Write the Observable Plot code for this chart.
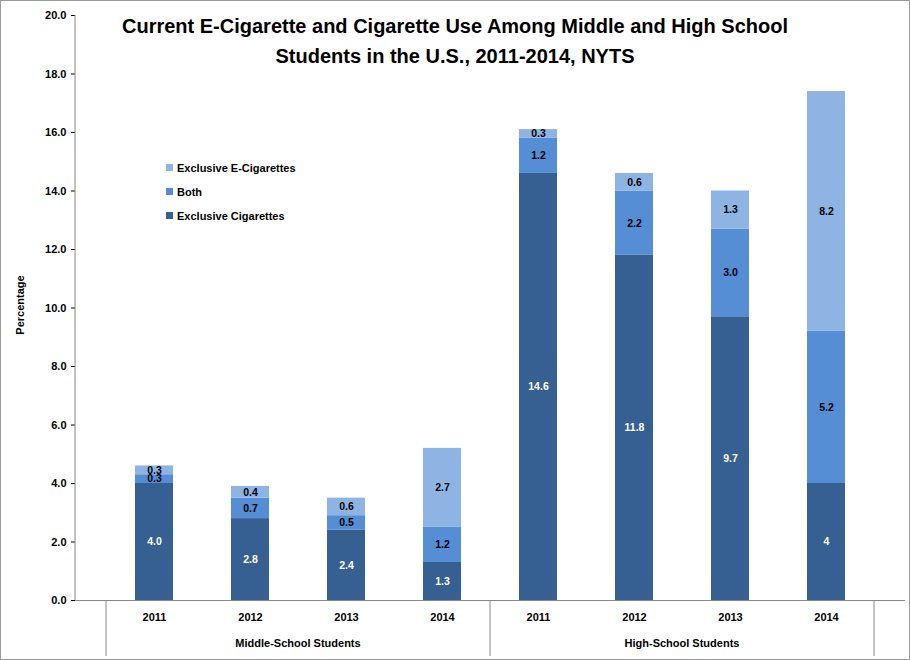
<!DOCTYPE html>
<html><head><meta charset="utf-8">
<script src="https://cdn.jsdelivr.net/npm/d3@7"></script>
<script src="https://cdn.jsdelivr.net/npm/@observablehq/plot@0.6"></script>
<style>body{margin:0;background:#fff}svg{display:block}</style>
</head><body><div id="c"></div>
<script>
const keys = ["M2011","M2012","M2013","M2014","H2011","H2012","H2013","H2014"];
const years = ["2011","2012","2013","2014","2011","2012","2013","2014"];
const groups = ["Middle-School Students","High-School Students"];
const series = ["Exclusive Cigarettes","Both","Exclusive E-Cigarettes"];
const cig   = [4.0, 2.8, 2.4, 1.3, 14.6, 11.8, 9.7, 4.0];
const both  = [0.3, 0.7, 0.5, 1.2, 1.2, 2.2, 3.0, 5.2];
const ecig  = [0.3, 0.4, 0.6, 2.7, 0.3, 0.6, 1.3, 8.2];
const cigLabels = ["4.0","2.8","2.4","1.3","14.6","11.8","9.7","4"];
const colors = ["#376092","#558ED5","#8EB4E3"];
const yTicks = [0,2,4,6,8,10,12,14,16,18,20];

const data = [];
keys.forEach((k,i)=>{
  data.push({k, s:series[0], v:cig[i], label:cigLabels[i], si:0});
  data.push({k, s:series[1], v:both[i], label:both[i].toFixed(1), si:1});
  data.push({k, s:series[2], v:ecig[i], label:ecig[i].toFixed(1), si:2});
});
const font = "Liberation Sans, Arial, sans-serif";
const chart = Plot.plot({
  width:910, height:660, marginLeft:75, marginRight:5, marginTop:15, marginBottom:60,
  style:{fontFamily:font, fontSize:"11px", fontWeight:"bold", color:"#000", background:"#fff"},
  x:{domain:keys, padding:0.6, tickFormat:(d)=>years[keys.indexOf(d)], tickSize:0, tickPadding:13, label:null},
  y:{domain:[0,20], ticks:yTicks, tickFormat:d=>d.toFixed(1), tickSize:4, label:null},
  color:{domain:series, range:colors},
  marks:[
    Plot.barY(data, {x:"k", y:"v", fill:"s", order:series}),
    Plot.text(data, Plot.stackY({x:"k", y:"v", order:series, text:"label",
      fill:d=>d.si===0?"white":"black", fontSize:10.5, fontWeight:"bold"})),
    Plot.ruleY([0], {stroke:"#888"})
  ]
});
const svg = d3.select(chart);
const xs = chart.scale("x");
const bw = xs.bandwidth, step = xs.step;
const left = xs.apply("M2011") - (step-bw)/2;
const mid = xs.apply("H2011") - (step-bw)/2;
const right = xs.apply("H2014") + bw + (step-bw)/2;
svg.append("rect").attr("x",0.5).attr("y",0.5).attr("width",909).attr("height",659).attr("fill","none").attr("stroke","#999");
svg.append("line").attr("x1",75).attr("x2",75).attr("y1",15).attr("y2",600).attr("stroke","#888");
[left,mid,right].forEach(x=>svg.append("line").attr("x1",x).attr("x2",x).attr("y1",600).attr("y2",656).attr("stroke","#888"));
[[left,mid],[mid,right]].forEach(([a,b],i)=>svg.append("text").attr("x",(a+b)/2).attr("y",647).attr("text-anchor","middle")
  .attr("font-family",font).attr("font-size",11).attr("font-weight","bold").text(groups[i]));
svg.append("text").attr("transform","translate(24,305) rotate(-90)").attr("text-anchor","middle")
  .attr("font-family",font).attr("font-size",11).attr("font-weight","bold").text("Percentage");
["Current E-Cigarette and Cigarette Use Among Middle and High School","Students in the U.S., 2011-2014, NYTS"].forEach((t,i)=>
  svg.append("text").attr("x",455).attr("y",33+i*30).attr("text-anchor","middle").attr("font-family",font)
  .attr("font-size",20).attr("font-weight","bold").text(t));
series.slice().reverse().forEach((s,i)=>{
  const y = 169+i*24;
  svg.append("rect").attr("x",166).attr("y",y-5).attr("width",7).attr("height",7).attr("fill",colors[2-i]);
  svg.append("text").attr("x",177).attr("y",y+3).attr("text-anchor","start").attr("font-family",font).attr("font-size",11).attr("font-weight","bold").text(s);
});
document.getElementById("c").appendChild(chart);
</script></body></html>
